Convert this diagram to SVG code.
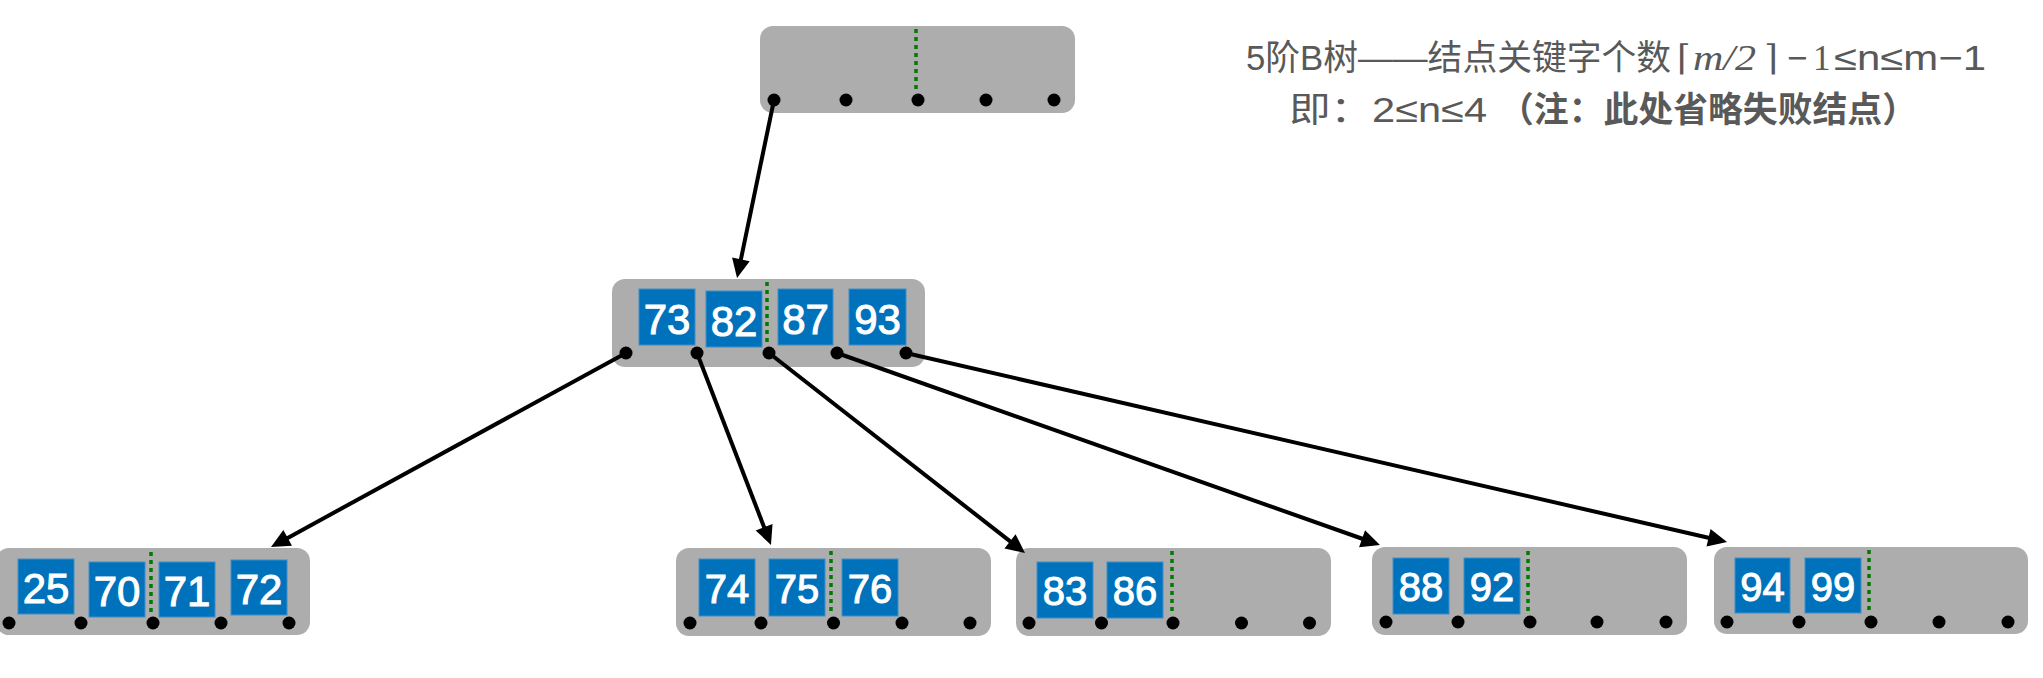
<svg xmlns="http://www.w3.org/2000/svg" width="2043" height="678" viewBox="0 0 2043 678">
<style>
.node{fill:#adadad}
.key{fill:#0072bb;stroke:#3d8fcb;stroke-width:1}
.kt{fill:#fff;stroke:#fff;stroke-width:1;font-family:"Liberation Sans",Arial,sans-serif;text-anchor:middle}
.dot{fill:#000}
.sep{stroke:#007a00;stroke-width:3.5;stroke-dasharray:4 4}
.edge{stroke:#000;stroke-width:4;fill:none;marker-end:url(#ah)}
.ti{fill:#595959;font-family:"Liberation Sans","Noto Sans CJK SC",sans-serif;font-size:35px}
</style>
<defs>
<marker id="ah" markerUnits="userSpaceOnUse" markerWidth="20" markerHeight="18" refX="1" refY="9" orient="auto" overflow="visible">
<path d="M0,0 L19,9 L0,18 z" fill="#000"/>
</marker>
</defs>
<rect width="2043" height="678" fill="#fff"/>

<g id="title">
<text class="ti" x="1246" y="70" textLength="425" lengthAdjust="spacingAndGlyphs">5阶B树——结点关键字个数</text>
<text class="ti" x="1677" y="70" style="font-family:'DejaVu Serif',serif">⌈</text>
<text class="ti" x="1693" y="70" textLength="63" lengthAdjust="spacingAndGlyphs" style="font-family:'Liberation Serif',serif;font-style:italic">m/2</text>
<text class="ti" x="1764" y="70" style="font-family:'DejaVu Serif',serif">⌉</text>
<text class="ti" x="1787" y="70">−</text>
<text class="ti" x="1813" y="70" style="font-family:'Liberation Serif',serif">1</text>
<text class="ti" x="1834" y="70" textLength="152" lengthAdjust="spacingAndGlyphs">≤n≤m−1</text>
<text class="ti" x="1289" y="122" textLength="198" lengthAdjust="spacingAndGlyphs">即：2≤n≤4</text>
<text class="ti" x="1499" y="122" style="font-weight:bold" textLength="418" lengthAdjust="spacingAndGlyphs">（注：此处省略失败结点）</text>
</g>

<g id="root">
<rect class="node" x="760" y="26" width="315" height="87" rx="13"/>
<line class="sep" x1="916" y1="29" x2="916" y2="92"/>
<circle class="dot" cx="774" cy="100" r="6.5"/>
<circle class="dot" cx="846" cy="100" r="6.5"/>
<circle class="dot" cx="918" cy="100" r="6.5"/>
<circle class="dot" cx="986" cy="100" r="6.5"/>
<circle class="dot" cx="1054" cy="100" r="6.5"/>
</g>

<g id="mid">
<rect class="node" x="612" y="279" width="313" height="88" rx="13"/>
<rect class="key" x="639" y="289" width="56" height="56"/>
<rect class="key" x="706" y="291" width="56" height="56"/>
<rect class="key" x="778" y="289" width="55" height="56"/>
<rect class="key" x="849" y="289" width="57" height="56"/>
<text class="kt" x="667" y="334" font-size="42">73</text>
<text class="kt" x="734" y="336" font-size="42">82</text>
<text class="kt" x="805.5" y="334" font-size="42">87</text>
<text class="kt" x="877.5" y="334" font-size="42">93</text>
<line class="sep" x1="767" y1="282" x2="767" y2="345"/>
<circle class="dot" cx="626" cy="353" r="6.5"/>
<circle class="dot" cx="697" cy="353" r="6.5"/>
<circle class="dot" cx="769" cy="353" r="6.5"/>
<circle class="dot" cx="837" cy="353" r="6.5"/>
<circle class="dot" cx="906" cy="353" r="6.5"/>
</g>

<g id="leaf1">
<rect class="node" x="-4" y="548" width="314" height="87" rx="13"/>
<rect class="key" x="18" y="559" width="56" height="55"/>
<rect class="key" x="89" y="562" width="56" height="55"/>
<rect class="key" x="159" y="562" width="56" height="55"/>
<rect class="key" x="231" y="560" width="56" height="55"/>
<text class="kt" x="46" y="603" font-size="42">25</text>
<text class="kt" x="117" y="606" font-size="42">70</text>
<text class="kt" x="187" y="606" font-size="42">71</text>
<text class="kt" x="259" y="604" font-size="42">72</text>
<line class="sep" x1="151" y1="552" x2="151" y2="613"/>
<circle class="dot" cx="9" cy="623" r="6.5"/>
<circle class="dot" cx="81" cy="623" r="6.5"/>
<circle class="dot" cx="153" cy="623" r="6.5"/>
<circle class="dot" cx="221" cy="623" r="6.5"/>
<circle class="dot" cx="289" cy="623" r="6.5"/>
</g>

<g id="leaf2">
<rect class="node" x="676" y="548" width="315" height="88" rx="13"/>
<rect class="key" x="699" y="559" width="56" height="57"/>
<rect class="key" x="769" y="559" width="56" height="57"/>
<rect class="key" x="842" y="559" width="56" height="57"/>
<text class="kt" x="727" y="603" font-size="40">74</text>
<text class="kt" x="797" y="603" font-size="40">75</text>
<text class="kt" x="870" y="603" font-size="40">76</text>
<line class="sep" x1="831" y1="551" x2="831" y2="614"/>
<circle class="dot" cx="690" cy="623" r="6.5"/>
<circle class="dot" cx="761" cy="623" r="6.5"/>
<circle class="dot" cx="833.5" cy="623" r="6.5"/>
<circle class="dot" cx="902" cy="623" r="6.5"/>
<circle class="dot" cx="970" cy="623" r="6.5"/>
</g>

<g id="leaf3">
<rect class="node" x="1016" y="548" width="315" height="88" rx="13"/>
<rect class="key" x="1037" y="562" width="56" height="56"/>
<rect class="key" x="1107" y="562" width="56" height="56"/>
<text class="kt" x="1065" y="605" font-size="40">83</text>
<text class="kt" x="1135" y="605" font-size="40">86</text>
<line class="sep" x1="1172" y1="551" x2="1172" y2="614"/>
<circle class="dot" cx="1029" cy="623" r="6.5"/>
<circle class="dot" cx="1101.5" cy="623" r="6.5"/>
<circle class="dot" cx="1173" cy="623" r="6.5"/>
<circle class="dot" cx="1241.5" cy="623" r="6.5"/>
<circle class="dot" cx="1309.5" cy="623" r="6.5"/>
</g>

<g id="leaf4">
<rect class="node" x="1372" y="547" width="315" height="88" rx="13"/>
<rect class="key" x="1393" y="558" width="56" height="56"/>
<rect class="key" x="1464" y="558" width="56" height="56"/>
<text class="kt" x="1421" y="601" font-size="40">88</text>
<text class="kt" x="1492" y="601" font-size="40">92</text>
<line class="sep" x1="1528" y1="551" x2="1528" y2="614"/>
<circle class="dot" cx="1386" cy="622" r="6.5"/>
<circle class="dot" cx="1458" cy="622" r="6.5"/>
<circle class="dot" cx="1530" cy="622" r="6.5"/>
<circle class="dot" cx="1597" cy="622" r="6.5"/>
<circle class="dot" cx="1666" cy="622" r="6.5"/>
</g>

<g id="leaf5">
<rect class="node" x="1714" y="547" width="314" height="87" rx="13"/>
<rect class="key" x="1735" y="558" width="55" height="55"/>
<rect class="key" x="1805" y="558" width="56" height="55"/>
<text class="kt" x="1762.5" y="601" font-size="40">94</text>
<text class="kt" x="1833" y="601" font-size="40">99</text>
<line class="sep" x1="1869" y1="550" x2="1869" y2="613"/>
<circle class="dot" cx="1727" cy="622" r="6.5"/>
<circle class="dot" cx="1799" cy="622" r="6.5"/>
<circle class="dot" cx="1871" cy="622" r="6.5"/>
<circle class="dot" cx="1939" cy="622" r="6.5"/>
<circle class="dot" cx="2008" cy="622" r="6.5"/>
</g>

<g id="connectors">
<line class="edge" x1="774" y1="100" x2="740.7" y2="260.4"/>
<line class="edge" x1="626" y1="353" x2="286.8" y2="538.4"/>
<line class="edge" x1="697" y1="353" x2="764.5" y2="528.2"/>
<line class="edge" x1="769" y1="353" x2="1010.8" y2="541.9"/>
<line class="edge" x1="837" y1="353" x2="1363" y2="539"/>
<line class="edge" x1="906" y1="353" x2="1709.5" y2="538"/>
</g>
</svg>
